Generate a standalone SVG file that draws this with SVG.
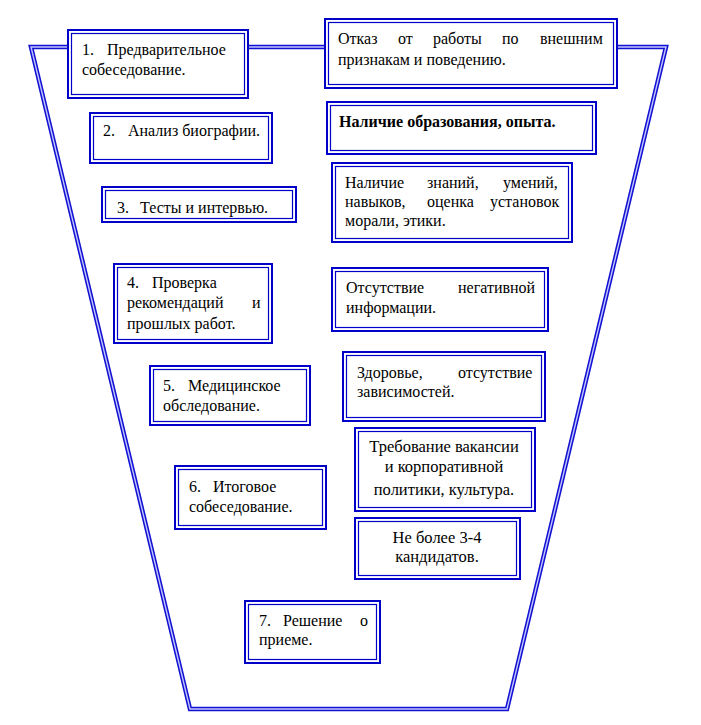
<svg xmlns="http://www.w3.org/2000/svg" width="701" height="725" viewBox="0 0 701 725">
<style>
text{font-family:"Liberation Serif","Times New Roman","DejaVu Serif",serif;font-size:16px;fill:#000}
.b{font-weight:bold}
.c{text-anchor:middle}
.big{font-size:16.5px}
.o{fill:#fff;stroke:#0000c8;stroke-width:2}
.i{fill:none;stroke:#0000c8;stroke-width:1.2}
.f1{fill:none;stroke:#1212d2;stroke-width:4.5;stroke-linejoin:miter}
.f2{fill:none;stroke:#c4c4ff;stroke-width:1.4;stroke-linejoin:miter}
</style>
<rect width="701" height="725" fill="#fff"/>
<g id="connectors">
<polygon class="f1" points="31,47 666,47 507,709 190,709"/>
<polygon class="f2" points="31,47 666,47 507,709 190,709"/>
</g>
<g id="n1">
<rect class="o" x="68" y="30" width="180" height="68"/><rect class="i" x="71.5" y="33.5" width="173" height="61"/>
<text x="82" y="55">1.</text><text x="107" y="55">Предварительное</text>
<text x="82" y="75">собеседование.</text>
</g>
<g id="n2">
<rect class="o" x="90" y="113" width="182" height="50"/><rect class="i" x="93.5" y="116.5" width="175" height="43"/>
<text x="103" y="136">2.</text><text x="128" y="136">Анализ биографии.</text>
</g>
<g id="n3">
<rect class="o" x="102" y="187" width="194" height="35"/><rect class="i" x="105.5" y="190.5" width="187" height="28"/>
<text x="117" y="213">3.</text><text x="140" y="213">Тесты и интервью.</text>
</g>
<g id="n4">
<rect class="o" x="114" y="264" width="158" height="79"/><rect class="i" x="117.5" y="267.5" width="151" height="72"/>
<text x="127" y="288">4.</text><text x="152" y="288">Проверка</text>
<text x="127" y="308">рекомендаций</text><text x="252" y="308">и</text>
<text x="127" y="329">прошлых работ.</text>
</g>
<g id="n5">
<rect class="o" x="150" y="366" width="160" height="59"/><rect class="i" x="153.5" y="369.5" width="153" height="52"/>
<text x="163" y="391">5.</text><text x="188" y="391">Медицинское</text>
<text x="163" y="411">обследование.</text>
</g>
<g id="n6">
<rect class="o" x="175" y="466" width="151" height="63"/><rect class="i" x="178.5" y="469.5" width="144" height="56"/>
<text x="189" y="492">6.</text><text x="213" y="492">Итоговое</text>
<text x="189" y="512">собеседование.</text>
</g>
<g id="n7">
<rect class="o" x="245" y="601" width="135" height="62"/><rect class="i" x="248.5" y="604.5" width="128" height="55"/>
<text x="259" y="626">7.</text><text x="283" y="626">Решение</text><text x="360" y="626">о</text>
<text x="259" y="645">приеме.</text>
</g>
<g id="r1">
<rect class="o" x="325" y="19" width="292" height="69"/><rect class="i" x="328.5" y="22.5" width="285" height="62"/>
<text x="338" y="44">Отказ</text><text x="398" y="44">от</text><text x="433" y="44">работы</text><text x="502" y="44">по</text><text x="540" y="44">внешним</text>
<text x="338" y="65">признакам и поведению.</text>
</g>
<g id="r2">
<rect class="o" x="327" y="102" width="269" height="52"/><rect class="i" x="330.5" y="105.5" width="262" height="45"/>
<text class="b" x="339" y="127">Наличие образования, опыта.</text>
</g>
<g id="r3">
<rect class="o" x="332" y="163" width="240" height="79"/><rect class="i" x="335.5" y="166.5" width="233" height="72"/>
<text x="345" y="188">Наличие</text><text x="427" y="188">знаний,</text><text x="503" y="188">умений,</text>
<text x="345" y="207">навыков,</text><text x="427" y="207">оценка</text><text x="490" y="207">установок</text>
<text x="345" y="226">морали, этики.</text>
</g>
<g id="r4">
<rect class="o" x="332" y="268" width="216" height="63"/><rect class="i" x="335.5" y="271.5" width="209" height="56"/>
<text x="346" y="293">Отсутствие</text><text x="458" y="293">негативной</text>
<text x="346" y="313">информации.</text>
</g>
<g id="r5">
<rect class="o" x="343" y="352" width="202" height="69"/><rect class="i" x="346.5" y="355.5" width="195" height="62"/>
<text x="357" y="378">Здоровье,</text><text x="458" y="378">отсутствие</text>
<text x="357" y="397">зависимостей.</text>
</g>
<g id="r6">
<rect class="o" x="355" y="428" width="180" height="83"/><rect class="i" x="358.5" y="431.5" width="173" height="76"/>
<text class="c big" x="444" y="452">Требование вакансии</text>
<text class="c big" x="444" y="472">и корпоративной</text>
<text class="c big" x="444" y="495">политики, культура.</text>
</g>
<g id="r7">
<rect class="o" x="355" y="518" width="165" height="61"/><rect class="i" x="358.5" y="521.5" width="158" height="54"/>
<text class="c big" x="437" y="543">Не более 3-4</text>
<text class="c big" x="437" y="562">кандидатов.</text>
</g>
</svg>
